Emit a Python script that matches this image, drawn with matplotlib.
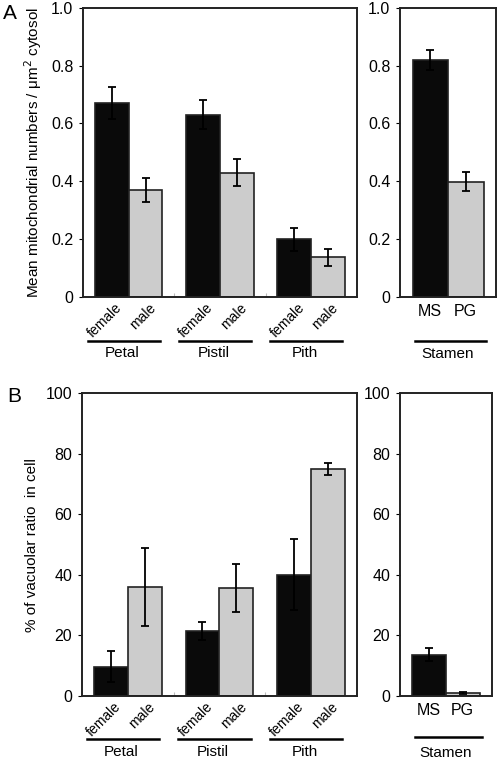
import numpy as np
import matplotlib.pyplot as plt
from matplotlib.transforms import blended_transform_factory, ScaledTranslation

plt.rcParams['font.family'] = ['Liberation Sans', 'DejaVu Sans']
plt.rcParams['font.size'] = 10

groups = ["Petal", "Pistil", "Pith"]
sexes = ["female", "male"]
stamen = ["MS", "PG"]

# panel A: mitochondria per um2 cytosol
mito_female = [0.67, 0.63, 0.20]
mito_female_err = [0.055, 0.05, 0.04]
mito_male = [0.37, 0.43, 0.137]
mito_male_err = [0.04, 0.047, 0.03]
mito_stamen = [0.82, 0.398]
mito_stamen_err = [0.035, 0.033]

# panel B: vacuolar ratio (%)
vac_female = [9.7, 21.5, 40.1]
vac_female_err = [5.0, 3.0, 11.8]
vac_male = [36.0, 35.6, 74.9]
vac_male_err = [13.0, 8.0, 2.0]
vac_stamen = [13.7, 1.1]
vac_stamen_err = [2.3, 0.3]

DARK = "#0a0a0a"
LIGHT = "#cccccc"
W = 0.37
ekw = dict(ecolor="black", elinewidth=1.3, capsize=3, capthick=1.3)


def px(ax, dx, dy):
    # blended data/axes transform shifted by a pixel offset
    tr = blended_transform_factory(ax.transData, ax.transAxes)
    return tr + ScaledTranslation(dx / 100, dy / 100, ax.figure.dpi_scale_trans)


def style(ax):
    for s in ax.spines.values():
        s.set_linewidth(1.4)
        s.set_color("#222222")
    ax.tick_params(axis="y", direction="out", length=3, width=0.8, labelsize=11.5, pad=4)


def group_panel(ax, fem, fem_err, mal, mal_err, ymax, ticks, ticklabels, ylabel, line_px):
    x = np.arange(len(groups))
    ax.bar(x - W / 2, fem, W, yerr=fem_err, color=DARK, edgecolor="#222222",
           linewidth=1.2, error_kw=ekw)
    ax.bar(x + W / 2, mal, W, yerr=mal_err, color=LIGHT, edgecolor="#222222",
           linewidth=1.2, error_kw=ekw)
    ax.set_xlim(-0.5, 2.5)
    ax.set_ylim(0, ymax)
    ax.set_yticks(ticks)
    ax.set_yticklabels(ticklabels)
    ax.set_xticks([0.5, 1.5])
    ax.set_xticklabels([])
    ax.tick_params(axis="x", direction="in", length=3, color="#bbbbbb")
    ax.set_ylabel(ylabel, fontsize=11, labelpad=5)
    style(ax)
    for i, g in enumerate(groups):
        for j, s in enumerate(sexes):
            xc = i + (j - 0.5) * W
            ax.text(xc, 0, s, transform=px(ax, 3, -4), rotation=45,
                    rotation_mode="anchor", ha="right", va="top", fontsize=10)
        ax.plot([i - 0.45, i + 0.34], [0, 0], transform=px(ax, 0, -line_px),
                color="black", lw=1.8, clip_on=False)
        ax.text(i - 0.07, 0, g, transform=px(ax, 0, -56), ha="center", va="center",
                fontsize=11)


def stamen_panel(ax, vals, errs, ymax, ticks, ticklabels, line_px):
    ax.bar([-W / 2, W / 2], vals, W, yerr=errs, color=[DARK, LIGHT],
           edgecolor="#222222", linewidth=1.2, error_kw=ekw)
    ax.set_xlim(-0.5, 0.5)
    ax.set_ylim(0, ymax)
    ax.set_yticks(ticks)
    ax.set_yticklabels(ticklabels)
    ax.set_xticks([-W / 2, W / 2])
    ax.set_xticklabels(stamen, fontsize=11.5)
    ax.tick_params(axis="x", length=0, pad=5)
    style(ax)
    ax.plot([-0.34, 0.4], [0, 0], transform=px(ax, 0, -line_px), color="black",
            lw=1.8, clip_on=False)
    ax.text(0.0, 0, "Stamen", transform=px(ax, 0, -57), ha="center", va="center",
            fontsize=11)


fig = plt.figure(figsize=(4.97, 7.59), dpi=100)
axA = fig.add_axes([0.167, 0.6087, 0.551, 0.381])
axA2 = fig.add_axes([0.805, 0.6087, 0.193, 0.381])
axB = fig.add_axes([0.165, 0.083, 0.553, 0.399])
axB2 = fig.add_axes([0.805, 0.083, 0.184, 0.399])

tA = [0, 0.2, 0.4, 0.6, 0.8, 1.0]
tAl = ["0", "0.2", "0.4", "0.6", "0.8", "1.0"]
group_panel(axA, mito_female, mito_female_err, mito_male, mito_male_err, 1.0, tA, tAl,
            "Mean mitochondrial numbers / μm$^2$ cytosol", 44)
stamen_panel(axA2, mito_stamen, mito_stamen_err, 1.0, tA, tAl, 44)

tB = [0, 20, 40, 60, 80, 100]
group_panel(axB, vac_female, vac_female_err, vac_male, vac_male_err, 100, tB,
            [str(t) for t in tB], "% of vacuolar ratio  in cell", 43)
stamen_panel(axB2, vac_stamen, vac_stamen_err, 100, tB, [str(t) for t in tB], 41)

fig.text(0.006, 0.982, "A", fontsize=15, ha="left", va="center")
fig.text(0.014, 0.478, "B", fontsize=15, ha="left", va="center")

fig.savefig("out.png", dpi=100)
